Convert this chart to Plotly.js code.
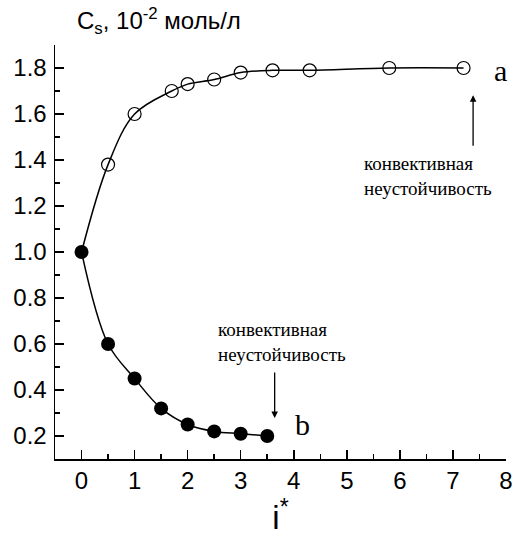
<!DOCTYPE html>
<html>
<head>
<meta charset="utf-8">
<script src="https://cdn.plot.ly/plotly-3.0.1.min.js"></script>
<style>html,body{margin:0;padding:0;background:#fff;}#chart{width:513px;height:536px;}</style>
</head>
<body>
<div id="chart"></div>
<script>
// Series a (open circles)
const aX = [0.5, 1.0, 1.7, 2.0, 2.5, 3.0, 3.6, 4.3, 5.8, 7.2];
const aY = [1.38, 1.60, 1.70, 1.73, 1.75, 1.78, 1.79, 1.79, 1.80, 1.80];
// Series b (filled circles)
const bX = [0.0, 0.5, 1.0, 1.5, 2.0, 2.5, 3.0, 3.5];
const bY = [1.00, 0.60, 0.45, 0.32, 0.25, 0.22, 0.21, 0.20];
// Tick labels
const xTicks = [0, 1, 2, 3, 4, 5, 6, 7, 8];
const yTicks = [0.2, 0.4, 0.6, 0.8, 1.0, 1.2, 1.4, 1.6, 1.8];
const noteText = "конвективная<br>неустойчивость";

const lineA = {
  x: [bX[0]].concat(aX), y: [bY[0]].concat(aY),
  mode: 'lines', line: {color: '#000', width: 1.5, shape: 'spline', smoothing: 1},
  hoverinfo: 'skip', showlegend: false, cliponaxis: false
};
const lineB = {
  x: bX, y: bY,
  mode: 'lines', line: {color: '#000', width: 1.5, shape: 'spline', smoothing: 1},
  hoverinfo: 'skip', showlegend: false, cliponaxis: false
};
const markA = {
  x: aX, y: aY, mode: 'markers',
  marker: {symbol: 'circle-open', size: 13, color: '#000', line: {width: 1.2, color: '#000'}},
  showlegend: false, cliponaxis: false
};
const markB = {
  x: bX, y: bY, mode: 'markers',
  marker: {symbol: 'circle', size: 14, color: '#000'},
  showlegend: false, cliponaxis: false
};

const sans = '"Liberation Sans", Arial, sans-serif';
const serif = '"Liberation Serif", "Times New Roman", "DejaVu Serif", serif';
const tickFont = {family: sans, size: 24, color: '#000'};

const layout = {
  width: 513, height: 536,
  margin: {l: 55, r: 7, t: 45, b: 77},
  paper_bgcolor: '#fff', plot_bgcolor: '#fff',
  showlegend: false,
  xaxis: {
    range: [-0.5, 8], tickvals: xTicks, ticktext: xTicks.map(String),
    ticks: 'inside', ticklen: 9, tickwidth: 1.5, tickcolor: '#000',
    minor: {dtick: 0.5, tick0: 0, ticks: 'inside', ticklen: 5, tickwidth: 1.5, tickcolor: '#000'},
    showline: true, linecolor: '#000', linewidth: 1.5,
    showgrid: false, zeroline: false, tickfont: tickFont,
    ticklabelstandoff: 0,
    title: {text: 'i<sup>*</sup>', font: {family: sans, size: 33, color: '#000'}, standoff: 24}
  },
  yaxis: {
    range: [0.1, 1.9], tickvals: yTicks, ticktext: yTicks.map(v => v.toFixed(1)),
    ticks: 'inside', ticklen: 9, tickwidth: 1.5, tickcolor: '#000',
    minor: {dtick: 0.1, tick0: 0.1, ticks: 'inside', ticklen: 5, tickwidth: 1.5, tickcolor: '#000'},
    showline: true, linecolor: '#000', linewidth: 1.5,
    showgrid: false, zeroline: false, tickfont: tickFont,
    ticklabelstandoff: 2
  },
  annotations: [
    {xref: 'paper', yref: 'paper', x: 0.022, y: 1.0, xanchor: 'left', yanchor: 'bottom', yshift: 5, xshift: 10,
     text: 'C<sub>s</sub>, 10<sup>-2</sup> моль/л', showarrow: false,
     font: {family: sans, size: 24, color: '#000'}},
    {xref: 'x', yref: 'y', x: 7.89, y: 1.79, text: 'a', showarrow: false, xanchor: 'center', yanchor: 'middle',
     font: {family: serif, size: 30, color: '#000'}},
    {xref: 'x', yref: 'y', x: 4.17, y: 0.25, text: 'b', showarrow: false, xanchor: 'center', yanchor: 'middle',
     font: {family: serif, size: 30, color: '#000'}},
    {xref: 'x', yref: 'y', x: 6.53, y: 1.331, text: noteText, showarrow: false, align: 'left',
     font: {family: serif, size: 19, color: '#000'}},
    {xref: 'x', yref: 'y', x: 3.78, y: 0.608, text: noteText, showarrow: false, align: 'left',
     font: {family: serif, size: 19, color: '#000'}},
    {xref: 'x', yref: 'y', x: 7.38, y: 1.682, axref: 'x', ayref: 'y', ax: 7.38, ay: 1.455,
     text: '', showarrow: true, arrowhead: 2, arrowsize: 1, arrowwidth: 1.3, arrowcolor: '#000'},
    {xref: 'x', yref: 'y', x: 3.64, y: 0.278, axref: 'x', ayref: 'y', ax: 3.64, ay: 0.483,
     text: '', showarrow: true, arrowhead: 2, arrowsize: 1, arrowwidth: 1.3, arrowcolor: '#000'}
  ]
};

Plotly.newPlot('chart', [lineA, lineB, markA, markB], layout, {staticPlot: true});
</script>
</body>
</html>
